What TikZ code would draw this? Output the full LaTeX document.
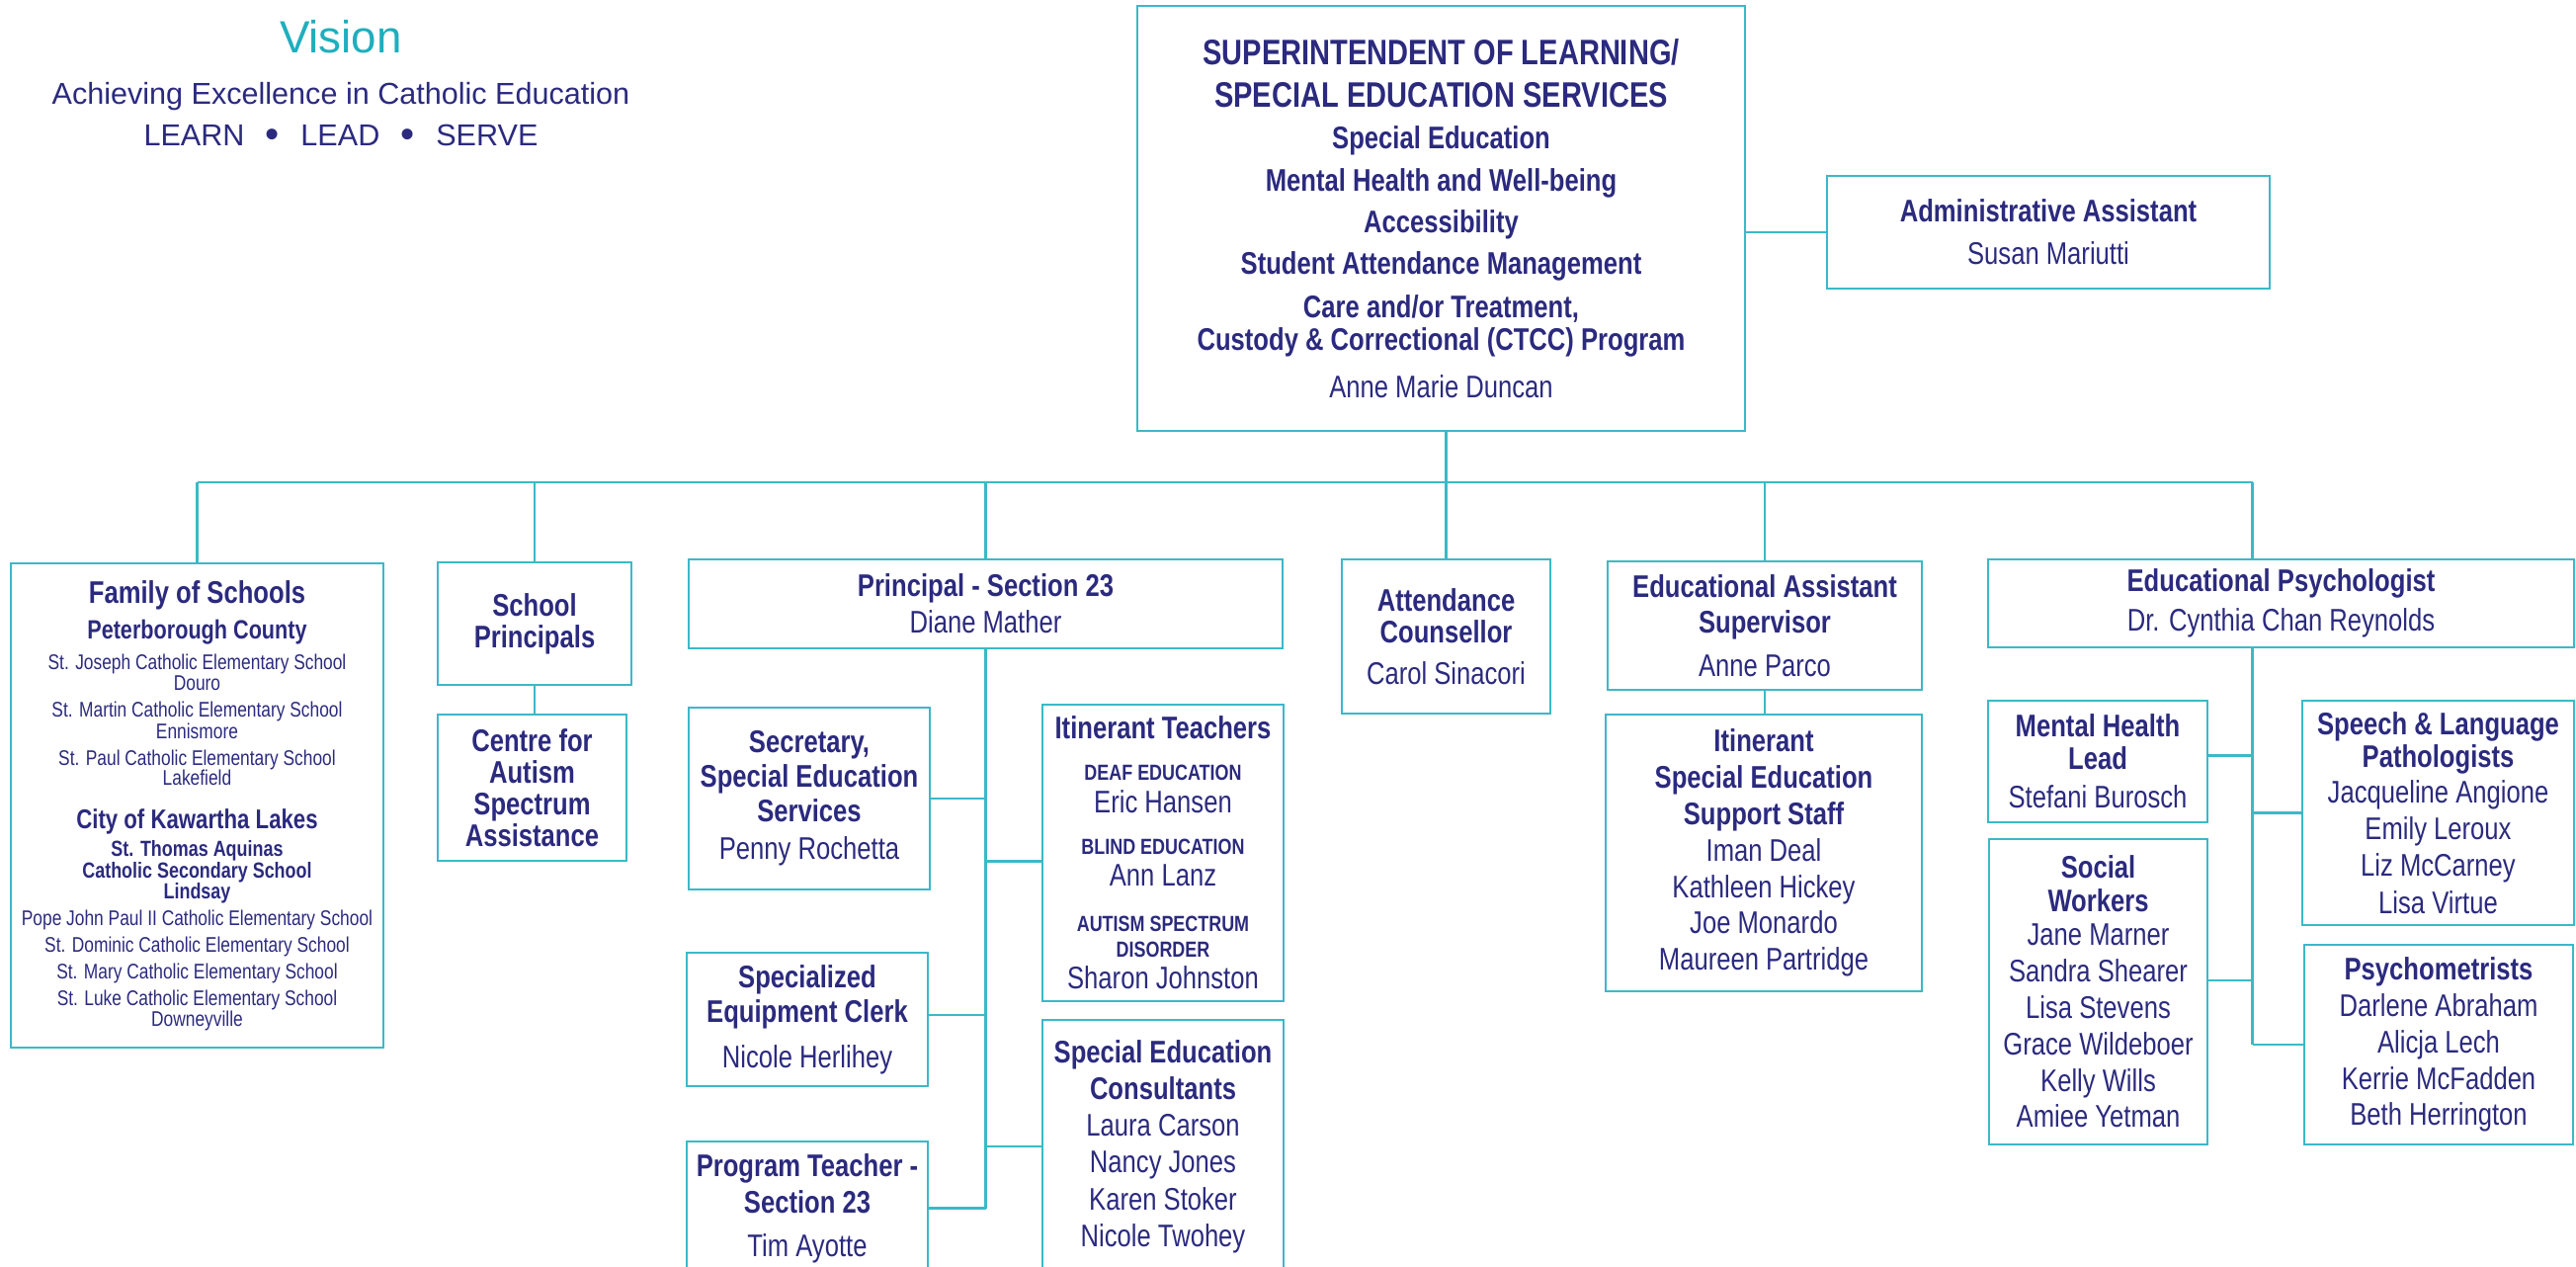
\documentclass[tikz,border=0pt]{standalone}
\usepackage{fontspec}
\setmainfont{Liberation Sans}
\newfontfamily\cnd{Liberation Sans}[FakeStretch=0.81]
\usepackage{xcolor}
\usetikzlibrary{positioning}
\definecolor{ink}{HTML}{2B2A7E}
\definecolor{lineteal}{HTML}{3BB9C7}
\definecolor{visteal}{HTML}{1FAEBD}
\newcommand\fsz[1]{\fontsize{#1}{#1}\selectfont}
\newcommand\boxfont[2]{\cnd\fontsize{#1}{#2}\selectfont\lineskiplimit=-50pt}
\newcommand\dotsep{\hspace{0.7em}\raisebox{-0.4pt}{\fsz{11.5}\textbullet}\hspace{0.7em}}

\begin{document}
\begin{tikzpicture}[unit/.style={draw=lineteal, line width=0.7pt, text=ink, align=center, inner sep=0pt},
    link/.style={draw=lineteal, line width=0.7pt}]
        \useasboundingbox (0,0) rectangle (26.07,-12.82);
        \clip (0,0) rectangle (26.07,-12.82);

        % vision
        \node[anchor=base, text=visteal, font=\fsz{13}] (vision) at (3.45,-0.54) {Vision};
        \node[anchor=base, text=ink, font=\fsz{8.7}] (motto) at (3.45,-1.06) {Achieving Excellence in Catholic Education};
        \node[anchor=base, text=ink, font=\fsz{8.7}] (pillars) at (3.45,-1.48) {LEARN\dotsep LEAD\dotsep SERVE};

        % superintendent and assistant
        \node[unit, minimum width=6.15cm, minimum height=4.30cm, font=\boxfont{9}{9.4}] (sup) at (14.585,-2.21) {
            \fsz{10.2}\bfseries SUPERINTENDENT OF LEARNING/\\[2.8pt]
            \fsz{10.2}\bfseries SPECIAL EDUCATION SERVICES\\[2.6pt]
            \bfseries Special Education\\[2.8pt]
            \bfseries Mental Health and Well-being\\[2.6pt]
            \bfseries Accessibility\\[2.6pt]
            \bfseries Student Attendance Management\\[3.1pt]
            \bfseries Care and/or Treatment,\\
            \bfseries Custody \& Correctional (CTCC) Program\\[4.3pt]
            Anne Marie Duncan};
        \node[unit, minimum width=4.48cm, minimum height=1.14cm, font=\boxfont{9}{12.2}] (admin) at (20.73,-2.35) {\bfseries Administrative Assistant\\ Susan Mariutti};

        % first row
        \node[unit, minimum width=3.77cm, minimum height=4.90cm, font=\boxfont{6.1}{5.8}] (fam) at (1.995,-8.15) {
            \fsz{9}\bfseries Family of Schools\\[4.45pt]
            \fsz{7.6}\bfseries Peterborough County\\[3pt]
            St. Joseph Catholic Elementary School\\[0.2pt]
            Douro\\[1.9pt]
            St. Martin Catholic Elementary School\\[0.45pt]
            Ennismore\\[1.9pt]
            St. Paul Catholic Elementary School\\
            Lakefield\\[6.7pt]
            \fsz{7.8}\bfseries City of Kawartha Lakes\\[2.2pt]
            \fsz{6.3}\bfseries St. Thomas Aquinas\\[0.45pt]
            \fsz{6.3}\bfseries Catholic Secondary School\\[0.2pt]
            \fsz{6.3}\bfseries Lindsay\\[1.9pt]
            Pope John Paul II Catholic Elementary School\\[1.9pt]
            St. Dominic Catholic Elementary School\\[1.9pt]
            St. Mary Catholic Elementary School\\[1.9pt]
            St. Luke Catholic Elementary School\\
            Downeyville};
        \node[unit, minimum width=1.96cm, minimum height=1.24cm, font=\boxfont{9}{9.1}] (schp) at (5.41,-6.31) {\bfseries School\\ \bfseries Principals};
        \node[unit, minimum width=1.91cm, minimum height=1.48cm, font=\boxfont{9}{9.1}] (cas) at (5.385,-7.97) {\bfseries Centre for\\ \bfseries Autism\\ \bfseries Spectrum\\ \bfseries Assistance};
        \node[unit, minimum width=6.01cm, minimum height=0.90cm, font=\boxfont{9}{10.5}] (sec23) at (9.975,-6.11) {\bfseries Principal - Section 23\\ Diane Mather};
        \node[unit, minimum width=2.11cm, minimum height=1.56cm, font=\boxfont{9}{9.1}] (att) at (14.635,-6.44) {\bfseries Attendance\\ \bfseries Counsellor\\[2.85pt] Carol Sinacori};
        \node[unit, minimum width=3.18cm, minimum height=1.30cm, font=\boxfont{9}{10.24}] (ea) at (17.86,-6.33) {\bfseries Educational Assistant\\ \bfseries Supervisor\\[2.3pt] Anne Parco};
        \node[unit, minimum width=5.93cm, minimum height=0.89cm, font=\boxfont{9}{11.5}] (edpsy) at (23.085,-6.105) {\bfseries Educational Psychologist\\ Dr. Cynthia Chan Reynolds};

        % section 23 staff
        \node[unit, minimum width=2.44cm, minimum height=1.84cm, font=\boxfont{9}{10}] (secr) at (8.19,-8.08) {\bfseries Secretary,\\ \bfseries Special Education\\ \bfseries Services\\[0.8pt] Penny Rochetta};
        \node[unit, minimum width=2.44cm, minimum height=1.35cm, font=\boxfont{9}{10}] (clerk) at (8.17,-10.315) {\bfseries Specialized\\ \bfseries Equipment Clerk\\[3.1pt] Nicole Herlihey};
        \node[unit, minimum width=2.44cm, minimum height=1.35cm, font=\boxfont{9}{10.5}] (prog) at (8.17,-12.225) {\bfseries Program Teacher -\\ \bfseries Section 23\\[2pt] Tim Ayotte};
        \node[unit, minimum width=2.44cm, minimum height=3.00cm, font=\boxfont{9}{7.4}] (itin) at (11.77,-8.63) {
            \bfseries Itinerant Teachers\\[4.55pt]
            \fsz{6.3}\bfseries DEAF EDUCATION\\[2pt]
            Eric Hansen\\[4.55pt]
            \fsz{6.3}\bfseries BLIND EDUCATION\\[1.7pt]
            Ann Lanz\\[5.7pt]
            \fsz{6.3}\bfseries AUTISM SPECTRUM\\
            \fsz{6.3}\bfseries DISORDER\\[1.7pt]
            Sharon Johnston};
        \node[unit, minimum width=2.44cm, minimum height=2.56cm, font=\boxfont{9}{10.6}] (cons) at (11.77,-11.60) {\bfseries Special Education\\ \bfseries Consultants\\ Laura Carson\\ Nancy Jones\\ Karen Stoker\\ Nicole Twohey};

        % support staff
        \node[unit, minimum width=3.20cm, minimum height=2.80cm, font=\boxfont{9}{10.5}] (itse) at (17.85,-8.63) {\bfseries Itinerant\\ \bfseries Special Education\\ \bfseries Support Staff\\ Iman Deal\\ Kathleen Hickey\\ Joe Monardo\\ Maureen Partridge};

        % psychology staff
        \node[unit, minimum width=2.22cm, minimum height=1.23cm, font=\boxfont{9}{9.4}] (mhl) at (21.23,-7.705) {\bfseries Mental Health\\ \bfseries Lead\\[1.7pt] Stefani Burosch};
        \node[unit, minimum width=2.21cm, minimum height=3.09cm, font=\boxfont{9}{10.5}] (sw) at (21.235,-10.035) {\bfseries Social\\[-0.85pt] \bfseries Workers\\[-0.85pt] Jane Marner\\ Sandra Shearer\\ Lisa Stevens\\ Grace Wildeboer\\ Kelly Wills\\ Amiee Yetman};
        \node[unit, minimum width=2.75cm, minimum height=2.27cm, font=\boxfont{9}{10.6}] (slp) at (24.675,-8.225) {\bfseries Speech \& Language\\[-1.2pt] \bfseries Pathologists\\[-0.36pt] Jacqueline Angione\\ Emily Leroux\\ Liz McCarney\\ Lisa Virtue};
        \node[unit, minimum width=2.72cm, minimum height=2.02cm, font=\boxfont{9}{10.5}] (psym) at (24.68,-10.57) {\bfseries Psychometrists\\ Darlene Abraham\\ Alicja Lech\\ Kerrie McFadden\\ Beth Herrington};

        % connectors
        \coordinate (bus) at (0,-4.88);
        \coordinate (psyspine) at (22.795,-6.55);
        \draw[link] (sup.south -| att.north) -- (att.north);
        \draw[link] (admin.west -| sup.east) -- (admin.west);
        \draw[link] (fam.north |- bus) -- (psyspine |- bus);
        \foreach \n in {fam,schp,sec23,ea} \draw[link] (\n.north |- bus) -- (\n.north);
        \draw[link] (psyspine |- bus) -- (psyspine |- edpsy.north);
        \draw[link] (schp.south) -- (schp.south |- cas.north);
        \draw[link] (ea.south) -- (ea.south |- itse.north);

        \draw[link] (sec23.south) -- (sec23.south |- prog.east);
        \foreach \n/\s in {secr/east,clerk/2,prog/east,itin/184,cons/west} \draw[link] (\n.\s) -- (\n.\s -| sec23.south);

        \draw[link] (psyspine |- edpsy.south) -- (psyspine |- psym.west);
        \foreach \n/\s in {mhl/3,sw/6,slp/west,psym/west} \draw[link] (\n.\s) -- (\n.\s -| psyspine);
\end{tikzpicture}
\end{document}
